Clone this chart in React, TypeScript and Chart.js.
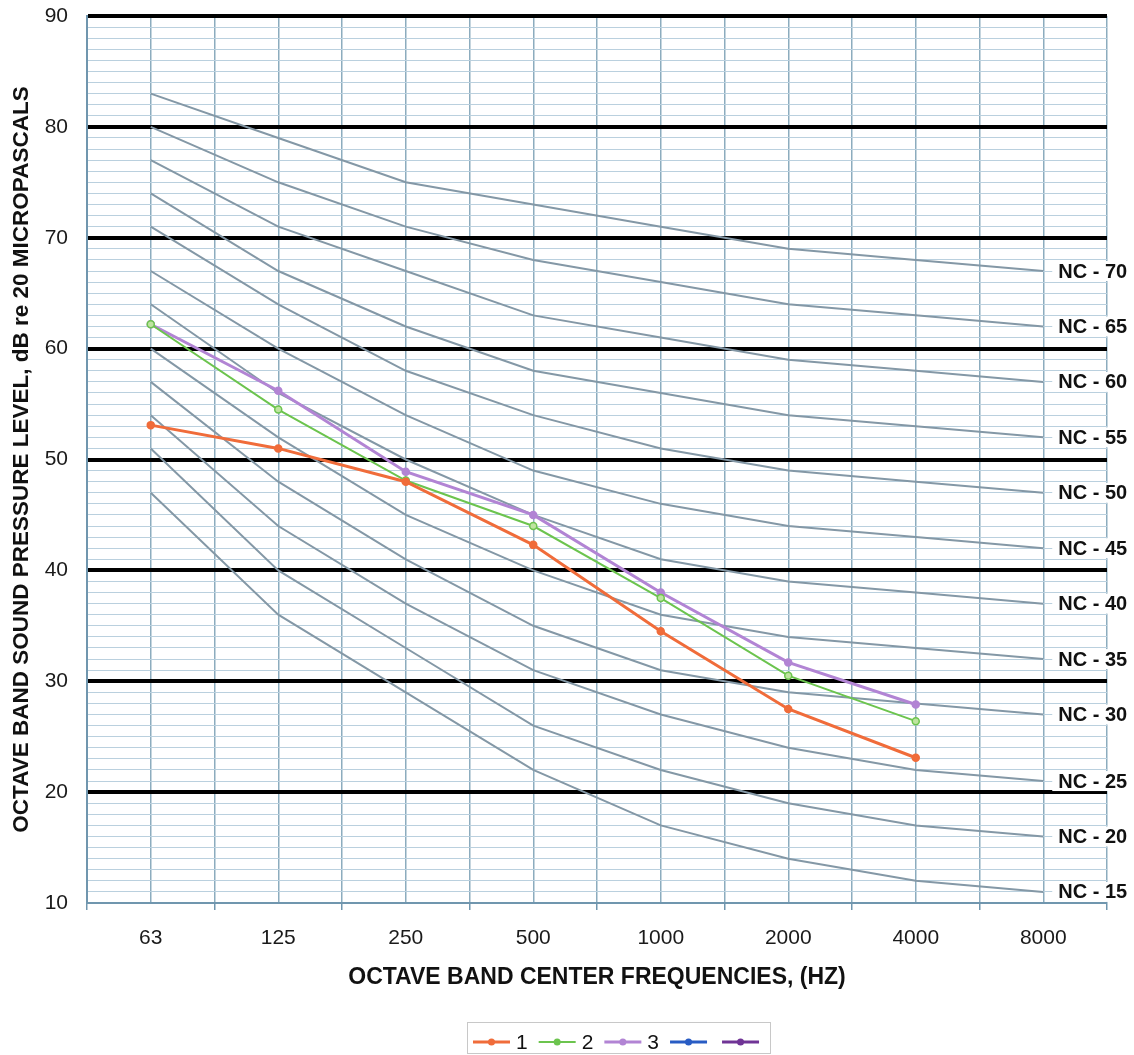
import React, { useEffect, useRef } from 'react';
import { Chart, registerables } from 'chart.js';

Chart.register(...registerables);

// ---------- data ----------
const frequencies = ['63', '125', '250', '500', '1000', '2000', '4000', '8000'];

const series1 = [53.1, 51.0, 48.0, 42.3, 34.5, 27.5, 23.1];
const series2 = [62.2, 54.5, 48.1, 44.0, 37.5, 30.5, 26.4];
const series3 = [62.2, 56.2, 48.9, 45.0, 38.0, 31.7, 27.9];
const series4: (number | null)[] = [null, null, null, null, null, null, null];
const series5: (number | null)[] = [null, null, null, null, null, null, null];
const seriesNames = ['1', '2', '3', '', ''];

const nc15 = [47, 36, 29, 22, 17, 14, 12, 11];
const nc20 = [51, 40, 33, 26, 22, 19, 17, 16];
const nc25 = [54, 44, 37, 31, 27, 24, 22, 21];
const nc30 = [57, 48, 41, 35, 31, 29, 28, 27];
const nc35 = [60, 52, 45, 40, 36, 34, 33, 32];
const nc40 = [64, 56, 50, 45, 41, 39, 38, 37];
const nc45 = [67, 60, 54, 49, 46, 44, 43, 42];
const nc50 = [71, 64, 58, 54, 51, 49, 48, 47];
const nc55 = [74, 67, 62, 58, 56, 54, 53, 52];
const nc60 = [77, 71, 67, 63, 61, 59, 58, 57];
const nc65 = [80, 75, 71, 68, 66, 64, 63, 62];
const nc70 = [83, 79, 75, 73, 71, 69, 68, 67];
const ncNames = ['NC - 15', 'NC - 20', 'NC - 25', 'NC - 30', 'NC - 35', 'NC - 40', 'NC - 45', 'NC - 50', 'NC - 55', 'NC - 60', 'NC - 65', 'NC - 70'];
const ncCurves = [nc15, nc20, nc25, nc30, nc35, nc40, nc45, nc50, nc55, nc60, nc65, nc70];

const yMin = 10;
const yMax = 90;
const yMajorStep = 10;

// ---------- styles ----------
const FONT = "'Liberation Sans', Arial, Helvetica, sans-serif";
const seriesColors = ['rgb(240,108,58)', 'rgb(108,196,78)', 'rgb(178,132,212)', 'rgb(40,92,196)', 'rgb(112,52,150)'];
const seriesWidths = [3, 2, 3, 3, 3];
const seriesPointFill = ['rgb(240,108,58)', 'rgb(190,228,160)', 'rgb(178,132,212)', 'rgb(40,92,196)', 'rgb(112,52,150)'];
const ncColor = 'rgb(132,152,166)';
const minorGrid = 'rgb(186,208,222)';
const vGrid = 'rgb(140,172,190)';
const axisColor = 'rgb(112,150,174)';

const ncLabelPlugin = {
  id: 'ncLabels',
  afterDatasetsDraw(chart: any) {
    const ctx = chart.ctx;
    ctx.save();
    ctx.font = `bold 20px ${FONT}`;
    ctx.textBaseline = 'middle';
    ctx.textAlign = 'left';
    chart.data.datasets.forEach((ds: any, i: number) => {
      if (!ds.ncLabel) return;
      const meta = chart.getDatasetMeta(i);
      const last = meta.data[meta.data.length - 1];
      if (!last) return;
      const x = last.x + 15;
      const y = last.y;
      const w = ctx.measureText(ds.ncLabel).width;
      ctx.fillStyle = '#ffffff';
      ctx.fillRect(x - 6, y - 10, w + 10, 20);
      ctx.fillStyle = '#111111';
      ctx.fillText(ds.ncLabel, x, y + 1);
    });
    ctx.restore();
  },
};

const legendPlugin = {
  id: 'customLegend',
  afterDraw(chart: any) {
    const ctx = chart.ctx;
    ctx.save();
    ctx.strokeStyle = 'rgb(200,200,200)';
    ctx.lineWidth = 1;
    ctx.strokeRect(467.5, 1022.5, 303, 31);
    ctx.font = `21px ${FONT}`;
    ctx.textBaseline = 'middle';
    ctx.textAlign = 'left';
    const cy = 1042;
    let x = 473;
    chart.data.datasets.forEach((ds: any) => {
      if (ds.ncLabel) return;
      ctx.strokeStyle = ds.borderColor;
      ctx.lineWidth = ds.borderWidth;
      ctx.beginPath();
      ctx.moveTo(x, cy);
      ctx.lineTo(x + 37, cy);
      ctx.stroke();
      ctx.fillStyle = ds.borderColor;
      ctx.beginPath();
      ctx.arc(x + 18.5, cy, 3.5, 0, Math.PI * 2);
      ctx.fill();
      if (ds.label) {
        ctx.fillStyle = '#111111';
        ctx.fillText(ds.label, x + 43, cy + 1);
        x += 43 + ctx.measureText(ds.label).width + 11;
      } else {
        x += 52;
      }
    });
    ctx.restore();
  },
};

export default function App() {
  const canvasRef = useRef<HTMLCanvasElement | null>(null);

  useEffect(() => {
    const canvas = canvasRef.current;
    if (!canvas) return;

    const dataSeries = [series1, series2, series3, series4, series5].map((vals, i) => ({
      label: seriesNames[i],
      data: vals,
      borderColor: seriesColors[i],
      backgroundColor: seriesColors[i],
      borderWidth: seriesWidths[i],
      pointRadius: 3.5,
      pointBorderWidth: 1.5,
      pointBorderColor: seriesColors[i],
      pointBackgroundColor: seriesPointFill[i],
      tension: 0,
    }));

    const ncSets = ncCurves.map((vals, i) => ({
      label: ncNames[i],
      ncLabel: ncNames[i],
      data: vals,
      borderColor: ncColor,
      backgroundColor: ncColor,
      borderWidth: 2,
      pointRadius: 0,
      tension: 0,
    }));

    const chart = new Chart(canvas, {
      type: 'line',
      data: {
        labels: frequencies,
        datasets: [...dataSeries, ...ncSets] as any,
      },
      options: {
        responsive: false,
        animation: false,
        devicePixelRatio: 1,
        layout: { padding: { left: 0, top: 16, right: 27, bottom: 0 } },
        plugins: {
          legend: { display: false },
          tooltip: { enabled: false },
          title: { display: false },
        },
        scales: {
          x: {
            type: 'category',
            position: 'bottom',
            offset: true,
            grid: {
              offset: true,
              color: vGrid,
              lineWidth: 1.5,
              tickLength: 7,
              tickColor: axisColor,
              z: -2,
            },
            border: { display: true, color: axisColor, width: 2 },
            ticks: {
              color: '#1a1a1a',
              font: { family: FONT, size: 21 },
              padding: 16,
              maxRotation: 0,
              autoSkip: false,
            },
            title: {
              display: true,
              text: 'OCTAVE BAND CENTER FREQUENCIES, (HZ)',
              color: '#111111',
              font: { family: FONT, size: 23, weight: 'bold' },
              padding: { top: 0, bottom: 64 },
            },
            afterFit: (scale: any) => {
              scale.height = 152;
            },
          },
          x2: {
            type: 'category',
            position: 'bottom',
            offset: true,
            grid: {
              offset: false,
              color: vGrid,
              lineWidth: 1.5,
              drawTicks: false,
              z: -2,
            },
            border: { display: false },
            ticks: { display: false },
            afterFit: (scale: any) => {
              scale.height = 0;
            },
          },
          y: {
            type: 'linear',
            min: yMin,
            max: yMax,
            grid: {
              color: (c: any) => {
                const v = c.tick ? c.tick.value : 0;
                if (v === yMin) return axisColor;
                return v % yMajorStep === 0 ? '#000000' : minorGrid;
              },
              lineWidth: (c: any) => {
                const v = c.tick ? c.tick.value : 0;
                if (v === yMin) return 2;
                return v % yMajorStep === 0 ? 4 : 1;
              },
              drawTicks: false,
              z: -1,
            },
            border: { display: true, color: axisColor, width: 2 },
            ticks: {
              stepSize: 1,
              autoSkip: false,
              padding: 19,
              color: '#1a1a1a',
              font: { family: FONT, size: 21 },
              callback: (v: any) => (Number(v) % yMajorStep === 0 ? String(v) : ''),
            },
            title: {
              display: true,
              text: 'OCTAVE BAND SOUND PRESSURE LEVEL, dB re 20 MICROPASCALS',
              color: '#111111',
              font: { family: FONT, size: 22.5, weight: 'bold' },
              padding: { top: 8.5, bottom: 0 },
            },
            afterFit: (scale: any) => {
              scale.width = 87;
              scale.paddingTop = 0;
              scale.paddingBottom = 0;
            },
          },
        },
      },
      plugins: [ncLabelPlugin, legendPlugin],
    } as any);

    return () => {
      chart.destroy();
    };
  }, []);

  return (
    <div style={{ position: 'fixed', left: 0, top: 0, width: 1134, height: 1055, background: '#ffffff' }}>
      <canvas ref={canvasRef} width={1134} height={1055} style={{ width: 1134, height: 1055, display: 'block' }} />
    </div>
  );
}
